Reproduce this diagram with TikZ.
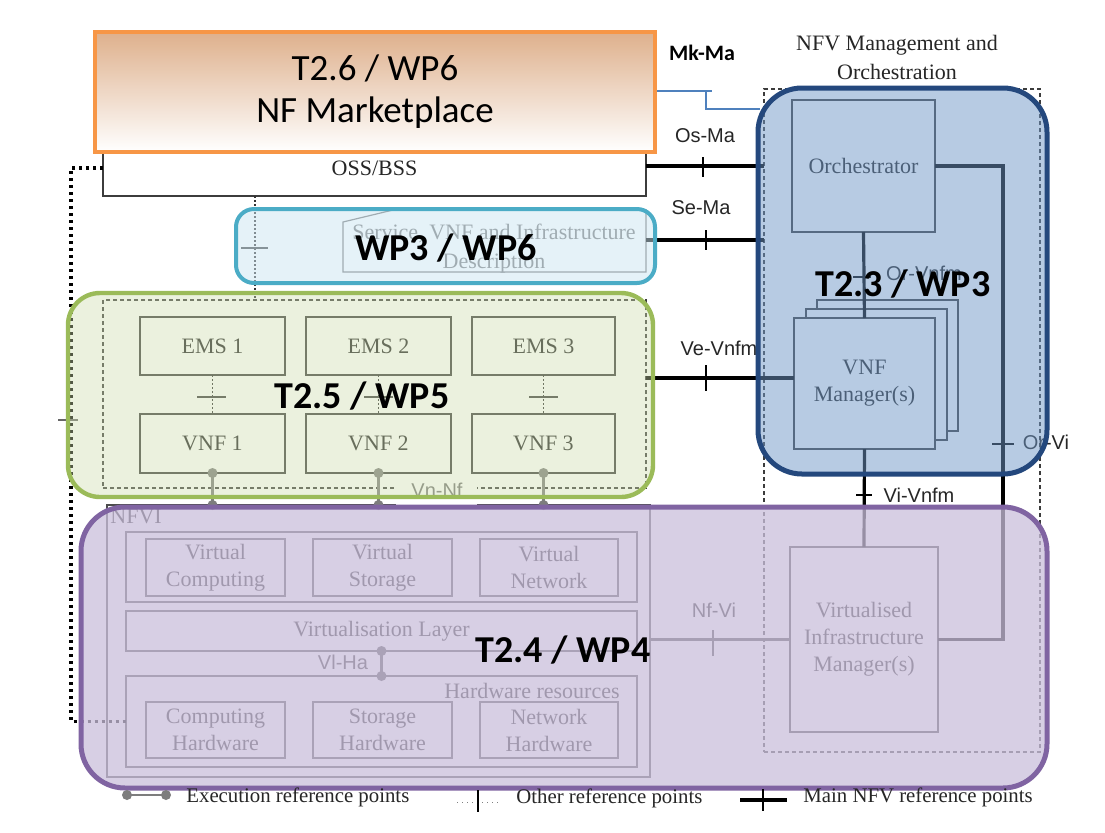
\documentclass[tikz,border=0pt]{standalone}
\usepackage{fontspec}
\setmainfont{Liberation Serif}
\newfontfamily\arialf{Liberation Sans}
\newfontfamily\calf{Carlito}
\usetikzlibrary{calc}
\definecolor{orngB}{RGB}{247,150,70}
\definecolor{orngF}{RGB}{222,176,140}
\definecolor{cyanB}{RGB}{75,172,198}
\definecolor{cyanF}{RGB}{205,230,242}
\definecolor{grnB}{RGB}{155,187,89}
\definecolor{grnF}{RGB}{205,220,173}
\definecolor{bluB}{RGB}{36,72,125}
\definecolor{bluF}{RGB}{113,153,201}
\definecolor{purB}{RGB}{128,100,162}
\definecolor{purF}{RGB}{202,191,219}
\definecolor{lnC}{RGB}{60,60,60}
\definecolor{exC}{RGB}{125,125,125}
\definecolor{mkC}{RGB}{79,129,189}
% box from (x1,y1) to (x2,y2) in pixel units
\newcommand\bx[7][]{\node[box,#1,minimum width={(#5-#3)*0.5pt},minimum height={(#6-#4)*0.5pt}] (#2) at ({(#3+#5)/2},{(#4+#6)/2}) {#7};}
\begin{document}
\begin{tikzpicture}[x=0.5pt,y=-0.5pt,
  box/.style={draw=lnC, line width=0.6pt, fill=white, inner sep=0pt, outer sep=0pt,
    font=\fontsize{11}{13.5}\selectfont, align=center, text=black!85},
  dashedbox/.style={draw=lnC, fill=none, dash pattern=on 2pt off 1.5pt, line width=0.6pt},
  serif/.style={font=\fontsize{11}{14.5}\selectfont, align=center, text=black!85, inner sep=0pt},
  legtext/.style={font=\fontsize{10.4}{12}\selectfont, text=black!85, inner sep=0pt},
  sans/.style={font=\arialf\fontsize{10}{12}\selectfont, text=black!85, inner sep=0pt},
  mainref/.style={line width=1.6pt, black},
  reftick/.style={line width=0.8pt, black},
  otherref/.style={line width=0.9pt, black!80, dash pattern=on 0.9pt off 1.1pt},
  thickdot/.style={line width=1.6pt, black, dash pattern=on 1.5pt off 2pt},
  exref/.style={draw=exC, line width=1.4pt},
  exdot/.style={circle, fill=exC, inner sep=0pt, minimum size=5pt},
  ovlab/.style={font=\calf\bfseries\fontsize{19}{22}\selectfont, text=black, inner sep=0pt},
  mkline/.style={draw=mkC, line width=0.6pt}
]
\useasboundingbox (0,0) rectangle (1105,832);
\fill[white] (0,0) rectangle (1105,832);

% ---------------- base diagram ----------------
% NFV MANO
\bx[dashedbox]{mano}{764}{89}{1040}{752}{}
\node[serif] (manot) at (897,57) {NFV Management and\\Orchestration};
\bx{orch}{792}{100}{935}{232}{Orchestrator}
\bx{vnfm3}{817}{300}{958}{431}{}
\bx{vnfm2}{806}{309}{947}{440}{}
\bx{vnfm1}{794}{318}{935}{449}{VNF\\Manager(s)}
\bx{vim}{790}{547}{938}{732}{Virtualised\\Infrastructure\\Manager(s)}

% OSS/BSS
\bx{oss}{103}{140}{646}{196}{\raisebox{-2pt}{OSS/BSS}}

% description document
\draw[draw=black!55, line width=0.6pt, fill=white] (343,222) -- (393,210) -- (646,210) -- (646,272) -- (343,272) -- cycle;
\node[serif, text=black!55] (doc) at (494,249) {Service, VNF and Infrastructure\\Description};
\coordinate (docE) at (646,240);

% VNF domain
\bx[dashedbox]{vnfdash}{103}{300}{646}{488}{}
\bx{ems1}{140}{317}{285}{375}{EMS 1}
\bx{ems2}{306}{317}{451}{375}{EMS 2}
\bx{ems3}{472}{317}{615}{375}{EMS 3}
\bx{vnf1}{140}{414}{285}{473}{VNF 1}
\bx{vnf2}{306}{414}{451}{473}{VNF 2}
\bx{vnf3}{472}{414}{615}{473}{VNF 3}

% NFVI
\bx[draw=black!70]{nfvi}{107}{505}{650}{777}{}
\node[serif, anchor=west] (nfvil) at (110,516) {NFVI};
\bx[draw=black!70]{vres}{126}{532}{637}{602}{}
\bx[draw=black!70]{vcomp}{146}{539}{285}{596}{Virtual\\Computing}
\bx[draw=black!70]{vstor}{313}{539}{452}{596}{Virtual\\Storage}
\bx[draw=black!70]{vnet}{480}{539}{618}{596}{Virtual\\Network}
\bx[draw=black!70]{vlayer}{126}{611}{637}{651}{Virtualisation Layer}
\bx[draw=black!70]{hwres}{126}{676}{637}{767}{}
\node[serif] (hwt) at (532,691) {Hardware resources};
\bx[draw=black!70]{chw}{146}{702}{285}{758}{Computing\\Hardware}
\bx[draw=black!70]{shw}{313}{702}{452}{758}{Storage\\Hardware}
\bx[draw=black!70]{nhw}{480}{702}{618}{758}{Network\\Hardware}

% Vn-Nf label area
\fill[white] (396,482) rectangle (477,507);
\node[sans, text=black!55] (vnnf) at (437,490) {Vn-Nf};

% ---------------- reference points ----------------
% thick dotted OSS/BSS -> hardware
\draw[thickdot] (oss.west) -- ++(-32,0) |- (hwres.west);
\draw[line width=0.6pt, black!60] (58,420) -- (78,420);
% dotted OSS/BSS -> VNF domain
\coordinate (xd) at (255,0);
\draw[otherref] (oss.south -| xd) -- (vnfdash.north -| xd);
\draw[line width=0.7pt, black!75] (241,248) -- (268,248);
% EMS -> VNF
\draw[otherref] (ems1.south) -- (vnf1.north);
\draw[otherref] (ems2.south) -- (vnf2.north);
\draw[otherref] (ems3.south) -- (vnf3.north);
\draw[line width=0.8pt, lnC] (197,397) -- (226,397);
\draw[line width=0.8pt, lnC] (364,397) -- (393,397);
\draw[line width=0.8pt, lnC] (529,397) -- (558,397);

% Os-Ma
\draw[mainref] (oss.east |- orch.west) -- (mano.west |- orch.west);
\draw[reftick] (703,157) -- (703,177);
\node[sans] (osma) at (705,136) {Os-Ma};
% Se-Ma
\draw[mainref] (docE) -- (mano.west |- docE);
\draw[reftick] (706,230) -- (706,250);
\node[sans] (sema) at (701,208) {Se-Ma};
% Ve-Vnfm
\draw[mainref] (vnfdash.east |- 0,378) -- ([yshift=2.75pt]vnfm1.west);
\draw[reftick] (706,365) -- (706,391);
\node[sans] (vevnfm) at (719,348) {Ve-Vnfm};
% Or-Vnfm
\draw[mainref] (orch.south) -- (vnfm1.north);
\draw[line width=0.6pt, black] (853,277) -- (871,277);
\node[sans] (orvnfm) at (924,273) {Or-Vnfm};
% Vi-Vnfm
\draw[mainref] (vnfm1.south) -- (vim.north);
\draw[reftick] (856,495) -- (872,495);
\node[sans] (vivnfm) at (919,495) {Vi-Vnfm};
% Or-Vi
\draw[mainref] (orch.east) -- ++(68,0) |- (vim.east);
\draw[reftick] (992,444) -- (1014,444);
\node[sans] (orvi) at (1046,442) {Or-Vi};
% Nf-Vi
\draw[mainref, black!75] (nfvi.east |- vim.west) -- (vim.west);
\draw[reftick, black!75] (713,630) -- (713,656);
\node[sans] (nfvi-l) at (714,610) {Nf-Vi};
% Vn-Nf execution
\foreach \v in {vnf1,vnf2,vnf3}{
  \draw[exref] (\v.south) -- (\v.south |- nfvi.north);
  \node[exdot] at (\v.south) {};
  \node[exdot] at (\v.south |- nfvi.north) {};
}
% Vl-Ha
\draw[exref, draw=black!70] (vlayer.south) -- (hwres.north);
\node[exdot, fill=black!70] at (vlayer.south) {};
\node[exdot, fill=black!70] at (hwres.north) {};
\node[sans, text=black!80] (vlha) at (343,662) {Vl-Ha};

% Mk-Ma
\coordinate (mkend) at (760,109);
\draw[mkline] (655,91) -- (712,91);
\draw[mkline] (706,91) |- (mkend);

% ---------------- overlays ----------------
\bx[draw=orngB, line width=2pt, top color=orngF, bottom color=white, text=black,
    font=\calf\fontsize{18.5}{21}\selectfont]{mkt}{95}{32}{655}{152}{T2.6 / WP6\\NF Marketplace}
\node[font=\calf\bfseries\fontsize{11}{13}\selectfont, inner sep=0pt] (mkma) at (702,53) {Mk-Ma};

\bx[draw=cyanB, line width=2pt, fill=cyanF, fill opacity=0.5, rounded corners=9pt]{ovwp36}{236}{209}{655}{283}{}
\bx[draw=grnB, line width=2.2pt, fill=grnF, fill opacity=0.4, rounded corners=16pt]{ovwp5}{68}{293}{653}{497}{}
\bx[draw=bluB, line width=2.5pt, fill=bluF, fill opacity=0.5, rounded corners=22pt]{ovwp3}{758}{88}{1047}{474}{}
\bx[draw=purB, line width=2.5pt, fill=purF, fill opacity=0.75, rounded corners=22pt]{ovwp4}{81}{507}{1047}{788}{}

\node[ovlab] (lwp36) at (446,248) {WP3 / WP6};
\node[ovlab] (lwp5) at (362,396) {T2.5 / WP5};
\node[ovlab] (lwp3) at (903,284) {T2.3 / WP3};
\node[ovlab] (lwp4) at (563,650) {T2.4 / WP4};

% ---------------- legend ----------------
\coordinate (lgE1) at (127,795);
\coordinate (lgE2) at (166,795);
\draw[exref] (lgE1) -- (lgE2);
\node[exdot] at (lgE1) {};
\node[exdot] at (lgE2) {};
\node[legtext, anchor=west] (lgEt) at (186,797) {Execution reference points};
\coordinate (lgO1) at (457,802);
\coordinate (lgO2) at (500,802);
\draw[line width=0.5pt, black!50, dotted] (lgO1) -- (lgO2);
\draw[line width=0.8pt, black] (478,790) -- (478,812);
\node[legtext, anchor=west] (lgOt) at (516,798) {Other reference points};
\coordinate (lgM1) at (740,800);
\coordinate (lgM2) at (787,800);
\draw[mainref] (lgM1) -- (lgM2);
\draw[reftick] (763,789) -- (763,811);
\node[legtext, anchor=west] (lgMt) at (803,797) {Main NFV reference points};
\end{tikzpicture}
\end{document}
